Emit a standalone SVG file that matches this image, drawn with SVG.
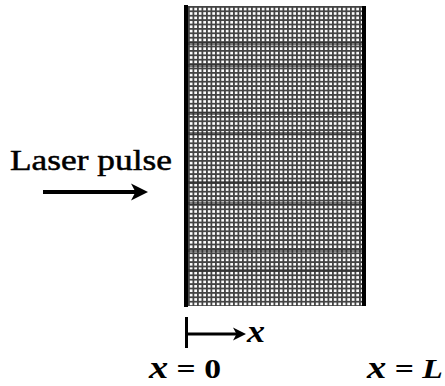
<svg xmlns="http://www.w3.org/2000/svg" width="445" height="386" viewBox="0 0 445 386">
<defs>
<style>
.lbl{font-family:"Liberation Serif","Times New Roman",serif;fill:#000}
.bar{fill:#000}
.band{fill:#2a2a2a;opacity:0.6}
.shaft{stroke:#000;fill:none}
.head{fill:#000}
</style>
<pattern id="mesh" patternUnits="userSpaceOnUse" x="188" y="6" width="4.5" height="4.4">
<rect width="4.5" height="4.4" fill="#fdfdfd"/>
<rect x="0" y="0" width="1.8" height="4.4" fill="#444"/>
<rect x="0" y="0" width="4.5" height="1.8" fill="#444"/>
</pattern>
</defs>
<rect width="445" height="386" fill="#fff"/>
<g id="medium">
<rect x="188" y="6" width="175" height="300" fill="url(#mesh)"/>
<rect class="band" x="188" y="42" width="175" height="3"/>
<rect class="band" x="188" y="64" width="175" height="3"/>
<rect class="band" x="188" y="112" width="175" height="3"/>
<rect class="band" x="188" y="132" width="175" height="3"/>
<rect class="band" x="188" y="181" width="175" height="3"/>
<rect class="band" x="188" y="202" width="175" height="3"/>
<rect class="band" x="188" y="249" width="175" height="3"/>
<rect class="band" x="188" y="269" width="175" height="3"/>
<rect class="bar" x="184" y="5" width="4" height="302"/>
<rect class="bar" x="362" y="6" width="4" height="300"/>
</g>
<g id="laser">
<text class="lbl" x="10" y="170" font-size="30" textLength="162" lengthAdjust="spacingAndGlyphs" stroke="#000" stroke-width="0.5">Laser pulse</text>
</g>
<g id="axis">
<rect class="bar" x="185" y="317" width="3" height="31"/>
<text class="lbl" x="247" y="342" font-size="32" font-style="italic" font-weight="bold" textLength="18" lengthAdjust="spacingAndGlyphs">x</text>
</g>
<g id="label-x0">
<text class="lbl" x="149" y="378" font-size="28" font-weight="bold" textLength="72" lengthAdjust="spacingAndGlyphs"><tspan font-style="italic" font-size="32">x</tspan> = 0</text>
</g>
<g id="label-xL">
<text class="lbl" x="367" y="378" font-size="28" font-weight="bold" textLength="76" lengthAdjust="spacingAndGlyphs"><tspan font-style="italic" font-size="32">x</tspan> = <tspan font-style="italic">L</tspan></text>
</g>
<g id="connectors">
<line class="shaft" x1="43" y1="192" x2="138" y2="192" stroke-width="4"/>
<path class="head" d="M148,192 L131,183.5 L135.5,192 L131,200.5 Z"/>
<line class="shaft" x1="188" y1="334" x2="238" y2="334" stroke-width="3"/>
<path class="head" d="M246,334 L233,327.5 L236.5,334 L233,340.5 Z"/>
</g>
</svg>
